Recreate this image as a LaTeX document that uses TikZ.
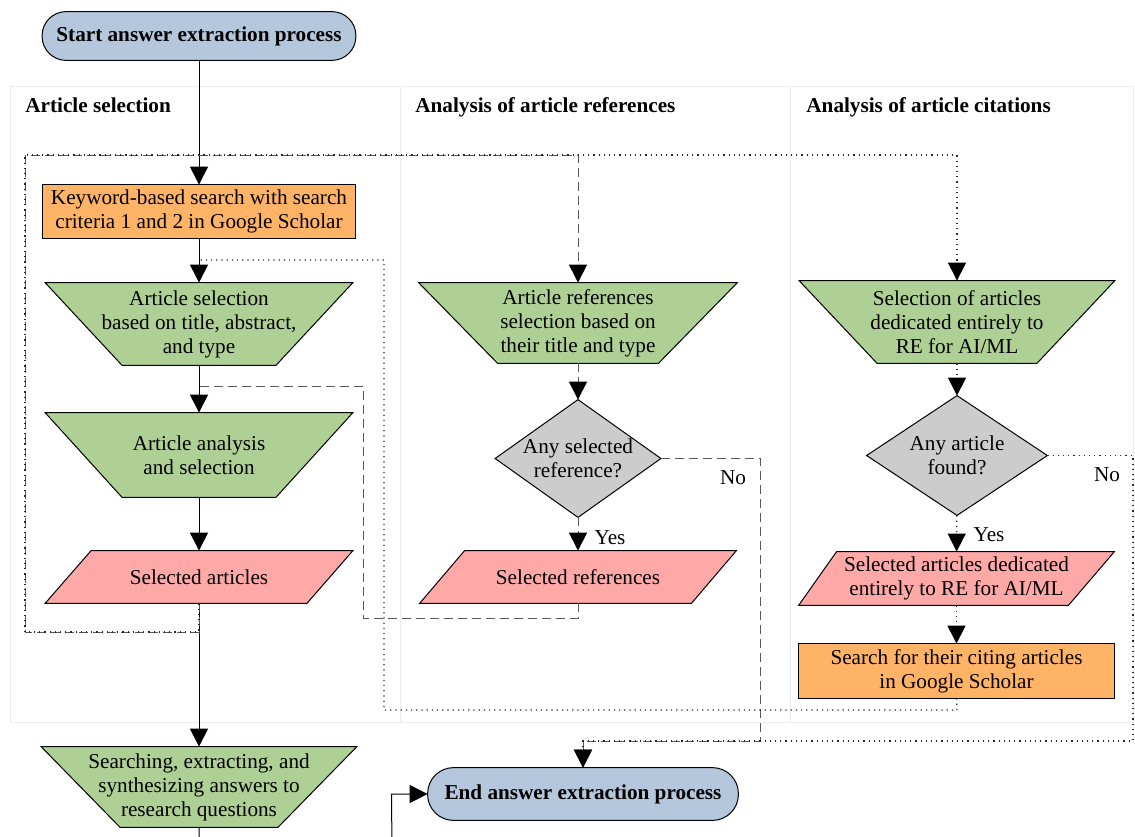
\documentclass[tikz,border=0pt]{standalone}
\usepackage{fontspec}
\setmainfont{Liberation Serif}
\usetikzlibrary{shapes.geometric,arrows.meta,backgrounds}
\definecolor{cterm}{RGB}{180,199,220}
\definecolor{corange}{RGB}{255,179,102}
\definecolor{cgreen}{RGB}{174,208,149}
\definecolor{cpink}{RGB}{255,168,168}
\definecolor{cgray}{RGB}{204,204,204}
\definecolor{clane}{RGB}{236,236,236}
\newcommand\ff{\fontsize{10.6}{12}\selectfont}
\tikzset{
  lbl/.style={inner sep=0pt, align=center, font=\ff},
  hdr/.style={inner sep=0pt, anchor=base west, font=\ff\bfseries},
  shp/.style={draw=black, line width=0.5pt},
  tipA/.style={-{Triangle[width=9pt,length=9pt,color=black]}},
  solidln/.style={draw=black, line width=0.5pt},
  dshln/.style={draw=black!65, line width=0.5pt, dash pattern=on 4.5pt off 2.5pt},
  dotln/.style={draw=black!85, line width=0.55pt, dash pattern=on 0.6pt off 2pt},
}
\begin{document}
\begin{tikzpicture}[x=0.5pt,y=-0.5pt]
\useasboundingbox (0,0) rectangle (1135,836);
\clip (0,0) rectangle (1135,836);

% headers
\node[hdr] (h1) at (25,112) {Article selection};
\node[hdr] (h2) at (415,112) {Analysis of article references};
\node[hdr] (h3) at (806,112) {Analysis of article citations};

% nodes
\node[lbl, font=\ff\bfseries, minimum width=156.5pt, minimum height=24pt] (start) at (199,36) {Start answer extraction process};
\node[lbl, minimum width=156pt, minimum height=26.5pt] (kw) at (199,211.5) {Keyword-based search with search\\criteria 1 and 2 in Google Scholar};
\node[lbl, minimum width=153.5pt, minimum height=41pt] (t1) at (199,324) {Article selection\\based on title, abstract,\\and type};
\node[lbl, minimum width=153.5pt, minimum height=42pt] (t2) at (199,455) {Article analysis\\and selection};
\node[lbl, minimum width=153.5pt, minimum height=26pt] (p1) at (199,577) {Selected articles};
\node[lbl, minimum width=157.5pt, minimum height=40pt] (t5) at (199,787) {Searching, extracting, and\\synthesizing answers to\\research questions};
\node[lbl, font=\ff\bfseries, minimum width=155pt, minimum height=26pt] (end) at (583,794) {End answer extraction process};

\node[lbl, minimum width=159pt, minimum height=40pt] (t3) at (578,323) {Article references\\selection based on\\their title and type};
\node[lbl, minimum width=82.5pt, minimum height=58.5pt] (d1) at (578,458.5) {Any selected\\reference?};
\node[lbl, minimum width=158pt, minimum height=26pt] (p2) at (578,577) {Selected references};

\node[lbl, minimum width=157.5pt, minimum height=41pt] (t4) at (957,322) {Selection of articles\\dedicated entirely to\\RE for AI/ML};
\node[lbl, minimum width=90pt, minimum height=59.5pt] (d2) at (957,455.5) {Any article\\found?};
\node[lbl, minimum width=157.5pt, minimum height=26.5pt] (p3) at (956.5,578.5) {Selected articles dedicated\\entirely to RE for AI/ML};
\node[lbl, minimum width=157.5pt, minimum height=27pt] (s2) at (956.5,671) {Search for their citing articles\\in Google Scholar};

% edge labels
\node[lbl] (no1) at (733,478) {No};
\node[lbl] (yes1) at (610,538) {Yes};
\node[lbl] (yes2) at (989,535) {Yes};
\node[lbl] (no2) at (1107,475) {No};

\coordinate (j1) at (199,260);
\coordinate (j2) at (199,386);

\begin{pgfonlayer}{background}
  % swimlanes
  \draw[clane, line width=0.5pt] (10,86) rectangle (1133,722);
  \draw[clane, line width=0.5pt] (400,86) -- (400,722);
  \draw[clane, line width=0.5pt] (790,86) -- (790,722);
  % terminals
  \filldraw[shp, fill=cterm, rounded corners=12pt] (start.north west) rectangle (start.south east);
  \filldraw[shp, fill=cterm, rounded corners=13pt] (end.north west) rectangle (end.south east);
  % process boxes
  \filldraw[shp, fill=corange] (kw.north west) rectangle (kw.south east);
  \filldraw[shp, fill=corange] (s2.north west) rectangle (s2.south east);
  % trapezoids
  \filldraw[shp, fill=cgreen] (t1.north west) -- (t1.north east) -- ([xshift=-38.5pt]t1.south east) -- ([xshift=38.5pt]t1.south west) -- cycle;
  \filldraw[shp, fill=cgreen] (t2.north west) -- (t2.north east) -- ([xshift=-38.5pt]t2.south east) -- ([xshift=38.5pt]t2.south west) -- cycle;
  \filldraw[shp, fill=cgreen] (t3.north west) -- (t3.north east) -- ([xshift=-39.5pt]t3.south east) -- ([xshift=39.5pt]t3.south west) -- cycle;
  \filldraw[shp, fill=cgreen] (t4.north west) -- (t4.north east) -- ([xshift=-39pt]t4.south east) -- ([xshift=39pt]t4.south west) -- cycle;
  \filldraw[shp, fill=cgreen] (t5.north west) -- (t5.north east) -- ([xshift=-39.5pt]t5.south east) -- ([xshift=39.5pt]t5.south west) -- cycle;
  % parallelograms
  \filldraw[shp, fill=cpink] (p1.south west) -- ([xshift=-23pt]p1.south east) -- (p1.north east) -- ([xshift=23pt]p1.north west) -- cycle;
  \filldraw[shp, fill=cpink] (p2.south west) -- ([xshift=-22.5pt]p2.south east) -- (p2.north east) -- ([xshift=22.5pt]p2.north west) -- cycle;
  \filldraw[shp, fill=cpink] (p3.south west) -- ([xshift=-23pt]p3.south east) -- (p3.north east) -- ([xshift=19pt]p3.north west) -- cycle;
  % decisions
  \filldraw[shp, fill=cgray] (d1.north) -- (d1.east) -- (d1.south) -- (d1.west) -- cycle;
  \filldraw[shp, fill=cgray] (d2.north) -- (d2.east) -- (d2.south) -- (d2.west) -- cycle;
\end{pgfonlayer}

% solid flow
\draw[solidln, tipA] (start) -- (kw);
\draw[solidln, tipA] (kw) -- (t1);
\draw[solidln, tipA] (t1) -- (t2);
\draw[solidln, tipA] (t2) -- (p1);
\draw[solidln, tipA] (p1) -- (t5);
\draw[solidln, tipA] (t5.south) -- (199,870) -- (392,870) -- ([xshift=-18pt]end.west) -- (end.west);

% dashed: references branch
\draw[dshln, tipA] (p1.south) -- (199,632) -- (25,632) -- (25,155) -- (578,155) -- (t3.north);
\draw[dshln, tipA] (t3) -- (d1);
\draw[dshln, tipA] (d1) -- (p2);
\draw[dshln] (p2.south) -- (578,618) -- (363,618) -- (363,386) -- (j2);
\draw[dshln, tipA] (d1.east) -- (760,458.5) -- (760,741) -- (583,741) -- (end.north);

% dotted: citations branch
\draw[dotln, tipA] (p1.south) -- (199,632) -- (25,632) -- (25,155) -- (957,155) -- (t4.north);
\draw[dotln, tipA] (t4) -- (d2);
\draw[dotln, tipA] (d2) -- (p3);
\draw[dotln, tipA] (p3.south) -- (s2.north);
\draw[dotln] (s2.south) -- (957,710) -- (384,710) -- (384,260) -- (j1);
\draw[dotln, tipA] (d2.east) -- (1133,455.5) -- (1133,741) -- (583,741) -- (end.north);
\end{tikzpicture}
\end{document}
